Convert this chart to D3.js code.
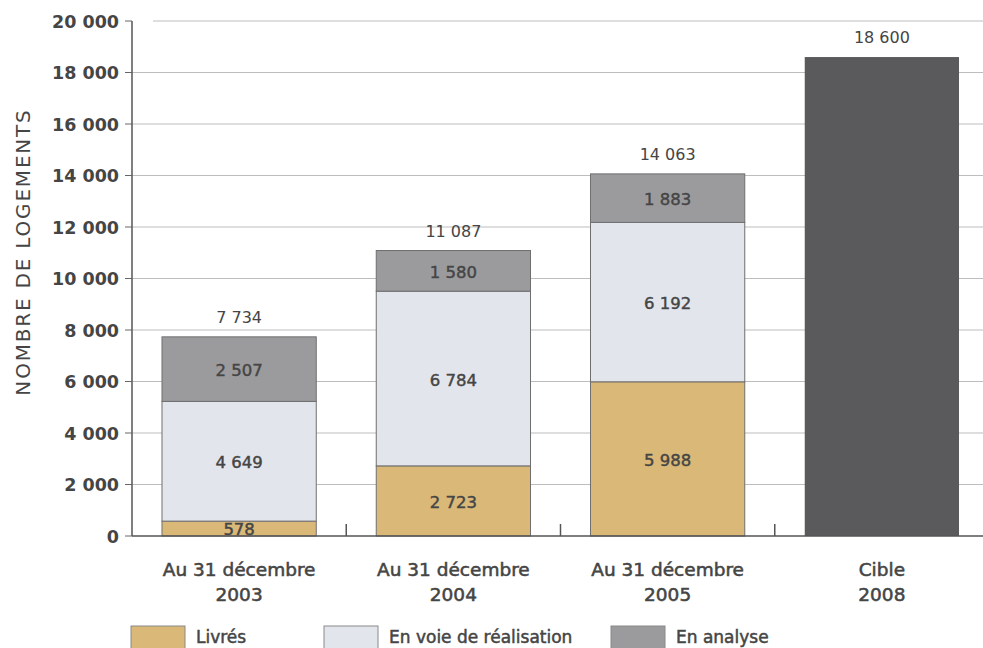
<!DOCTYPE html>
<html><head><meta charset="utf-8">
<script src="https://cdn.jsdelivr.net/npm/d3@7"></script>
<style>
body{margin:0;background:#fff;}
svg text{font-family:"DejaVu Sans","Open Sans",sans-serif;fill:#454545;}
</style></head>
<body><svg id="c" width="983" height="648"></svg>
<script>
const categories = [["Au 31 décembre","2003"],["Au 31 décembre","2004"],["Au 31 décembre","2005"],["Cible","2008"]];
const livres = [578, 2723, 5988, null];
const enVoie = [4649, 6784, 6192, null];
const enAnalyse = [2507, 1580, 1883, null];
const totals = [7734, 11087, 14063, 18600];
const cible = [null, null, null, 18600];
const yTicks = [0,2000,4000,6000,8000,10000,12000,14000,16000,18000,20000];
const seriesNames = ["Livrés","En voie de réalisation","En analyse"];
const colors = ["#d9b878","#e3e5ed","#9b9b9d"];
const cibleColor = "#5a5a5c";

const svg = d3.select("#c");
const x0 = 132, x1 = 989, yBase = 536, yTop = 21;
const x = d3.scaleBand().domain(d3.range(categories.length)).range([x0,x1]).paddingInner(0.28).paddingOuter(0.14);
const y = d3.scaleLinear().domain([0,20000]).range([yBase,yTop]);
const fmt = v => d3.format(",")(v).replace(/,/g," ");

// gridlines
svg.append("g").selectAll("line").data(yTicks.filter(d=>d>0)).join("line")
  .attr("x1", d => d===20000 ? 153 : x0).attr("x2", 983)
  .attr("y1", d=>y(d)).attr("y2", d=>y(d))
  .attr("stroke","#bdbdbd").attr("stroke-width",1);

// stacked bars
const stackData = categories.map((c,i)=>({i, livres:livres[i]||0, enVoie:enVoie[i]||0, enAnalyse:enAnalyse[i]||0}));
const stack = d3.stack().keys(["livres","enVoie","enAnalyse"])(stackData.slice(0,3));
stack.forEach((s,k)=>{
  const g = svg.append("g");
  g.selectAll("rect").data(s).join("rect")
    .attr("x", d=>x(d.data.i)).attr("width", x.bandwidth())
    .attr("y", d=>y(d[1])).attr("height", d=>y(d[0])-y(d[1]))
    .attr("fill", colors[k]).attr("stroke","#6f6f6f").attr("stroke-width",1);
  g.selectAll("text").data(s).join("text")
    .attr("x", d=>x(d.data.i)+x.bandwidth()/2)
    .attr("y", d=> (y(d[0])-y(d[1]) < 25 ? y(d[0]) - 1 : (y(d[0])+y(d[1]))/2 + 7))
    .attr("text-anchor","middle").attr("font-size",16.5)
    .attr("stroke","#454545").attr("stroke-width",0.45)
    .text(d=>fmt(d[1]-d[0]));
});
// cible bar
svg.append("g").selectAll("rect").data(cible.map((v,i)=>({v,i})).filter(d=>d.v!=null)).join("rect")
  .attr("x", d=>x(d.i)).attr("width", x.bandwidth())
  .attr("y", d=>y(d.v)).attr("height", d=>yBase-y(d.v))
  .attr("fill", cibleColor);

// totals
svg.append("g").selectAll("text").data(totals).join("text")
  .attr("x",(d,i)=>x(i)+x.bandwidth()/2).attr("y", d=>y(d)-14)
  .attr("text-anchor","middle").attr("font-size",16).attr("fill","#505050").text(d=>fmt(d));

// y axis
svg.append("line").attr("x1",x0).attr("x2",x0).attr("y1",yTop).attr("y2",yBase).attr("stroke","#555").attr("stroke-width",1.5);
svg.append("g").selectAll("line").data(yTicks).join("line")
  .attr("x1",125).attr("x2",x0).attr("y1",d=>y(d)).attr("y2",d=>y(d)).attr("stroke","#666").attr("stroke-width",1);
svg.append("g").selectAll("text").data(yTicks).join("text")
  .attr("x",119).attr("y",d=>y(d)+6.5).attr("text-anchor","end")
  .attr("font-size",17.5).attr("font-weight",700).attr("fill","#4a4a4a").text(d=>fmt(d));
svg.append("text").attr("transform","translate(30,252) rotate(-90)")
  .attr("text-anchor","middle").attr("font-size",20).attr("letter-spacing",1.8)
  .attr("fill","#4a4a4a").text("NOMBRE DE LOGEMENTS");

// x axis
svg.append("line").attr("x1",x0).attr("x2",983).attr("y1",yBase).attr("y2",yBase).attr("stroke","#555").attr("stroke-width",1.5);
svg.append("g").selectAll("line").data(d3.range(1,categories.length)).join("line")
  .attr("x1",i=>x(i)-x.step()*x.paddingInner()/2).attr("x2",i=>x(i)-x.step()*x.paddingInner()/2)
  .attr("y1",yBase).attr("y2",yBase-12).attr("stroke","#555").attr("stroke-width",1.5);
const xl = svg.append("g").selectAll("text").data(categories).join("text")
  .attr("x",(d,i)=>x(i)+x.bandwidth()/2).attr("y",576)
  .attr("text-anchor","middle").attr("font-size",18.5)
  .attr("stroke","#454545").attr("stroke-width",0.55);
xl.append("tspan").attr("x",(d,i)=>x(i)+x.bandwidth()/2).text(d=>d[0]);
xl.append("tspan").attr("x",(d,i)=>x(i)+x.bandwidth()/2).attr("dy",25).text(d=>d[1]);

// legend
const legX = [131, 324, 611];
const lg = svg.append("g").selectAll("g").data(seriesNames).join("g")
  .attr("transform",(d,i)=>`translate(${legX[i]},626)`);
lg.append("rect").attr("width",54).attr("height",24).attr("fill",(d,i)=>colors[i]).attr("stroke","#8a8a8a");
lg.append("text").attr("x",65).attr("y",17).attr("font-size",17)
  .attr("stroke","#454545").attr("stroke-width",0.5).text(d=>d);
</script></body></html>
